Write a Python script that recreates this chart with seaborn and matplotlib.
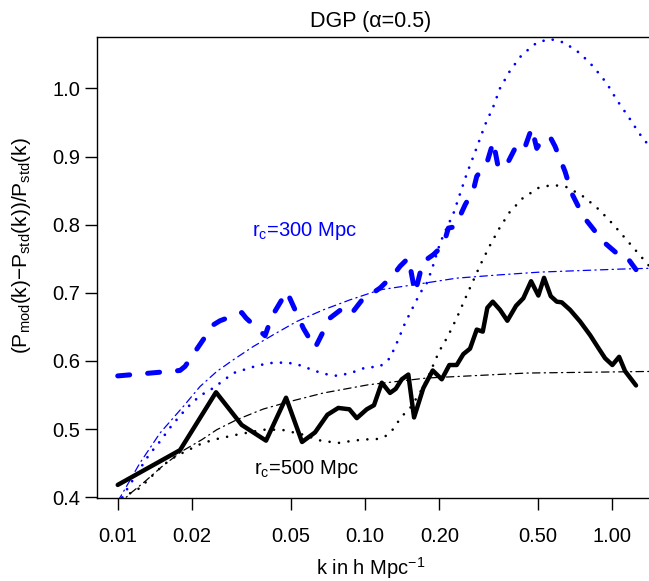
import matplotlib
matplotlib.use("Agg")
import matplotlib.pyplot as plt
from matplotlib.ticker import NullLocator
import seaborn as sns

# ---- data: ratio of modified to standard power spectrum vs k (h/Mpc) ----
# N-body measurement, r_c = 500 Mpc (black solid)
k_sim500 = [0.0100, 0.01786, 0.02498, 0.03174, 0.0398, 0.04796, 0.05566, 0.0628, 0.0705, 0.0780,
            0.0865, 0.0927, 0.1017, 0.1088, 0.1170, 0.1263, 0.1332, 0.1409, 0.1498, 0.1580,
            0.1722, 0.1880, 0.2045, 0.2195, 0.2351, 0.2500, 0.2661, 0.2833, 0.2996, 0.3127,
            0.3289, 0.3519, 0.3767, 0.4087, 0.4372, 0.4699, 0.5029, 0.5302, 0.5645, 0.5969,
            0.6253, 0.6757, 0.7415, 0.8140, 0.8795, 0.9361, 1.002, 1.067, 1.128, 1.249]
r_sim500 = [0.418, 0.469, 0.554, 0.506, 0.483, 0.546, 0.481, 0.495, 0.521, 0.531,
            0.529, 0.516, 0.529, 0.535, 0.568, 0.553, 0.559, 0.573, 0.580, 0.517,
            0.560, 0.586, 0.573, 0.594, 0.594, 0.610, 0.618, 0.646, 0.643, 0.678,
            0.687, 0.675, 0.659, 0.681, 0.692, 0.717, 0.696, 0.722, 0.695, 0.687,
            0.686, 0.675, 0.658, 0.638, 0.619, 0.604, 0.594, 0.606, 0.585, 0.564]

# N-body measurement, r_c = 300 Mpc (blue dashed)
k_sim300 = [0.0100, 0.01786, 0.01872, 0.02436, 0.02594, 0.03174, 0.03304, 0.03944, 0.04198, 0.04828,
            0.05633, 0.0628, 0.07225, 0.08177, 0.08843, 0.09852, 0.1099, 0.1151, 0.1302, 0.1387,
            0.1498, 0.1537, 0.1595, 0.1671, 0.1698, 0.1891, 0.2076, 0.2175, 0.2315, 0.2541,
            0.2746, 0.2833, 0.3109, 0.3306, 0.3465, 0.3746, 0.4047, 0.4372, 0.4730, 0.4955,
            0.5190, 0.5607, 0.5875, 0.6449, 0.6865, 0.7648, 0.9212, 1.044, 1.128, 1.249]
r_sim300 = [0.578, 0.586, 0.592, 0.653, 0.659, 0.671, 0.663, 0.637, 0.665, 0.702,
            0.648, 0.619, 0.663, 0.678, 0.670, 0.692, 0.702, 0.707, 0.726, 0.739,
            0.751, 0.731, 0.700, 0.729, 0.744, 0.756, 0.770, 0.795, 0.797, 0.829,
            0.851, 0.871, 0.890, 0.922, 0.883, 0.888, 0.912, 0.907, 0.942, 0.912,
            0.924, 0.929, 0.915, 0.878, 0.846, 0.812, 0.775, 0.758, 0.756, 0.734]

# Nonlinear fitting prediction, r_c = 300 Mpc (blue dotted)
k_fit300 = [0.0100, 0.01077, 0.0120, 0.01339, 0.01483, 0.01628, 0.01786, 0.01962, 0.02153, 0.02436,
            0.02935, 0.0365, 0.0413, 0.04828, 0.05378, 0.05998, 0.06787, 0.0769, 0.08706, 0.1001,
            0.1151, 0.1263, 0.1345, 0.1453, 0.157, 0.1671, 0.1778, 0.1863, 0.2013, 0.2142,
            0.2278, 0.2424, 0.2581, 0.2713, 0.2876, 0.3060, 0.3306, 0.3519, 0.3864, 0.4308,
            0.4955, 0.5607, 0.6406, 0.7415, 0.8392, 0.9508, 1.044, 1.163, 1.285, 1.41, 1.637]
r_fit300 = [0.3875, 0.4085, 0.4355, 0.4623, 0.4819, 0.502, 0.5196, 0.5357, 0.5489, 0.5602,
            0.5822, 0.5929, 0.5969, 0.5977, 0.5944, 0.5881, 0.5812, 0.5782, 0.5819, 0.590,
            0.5919, 0.6042, 0.6262, 0.6555, 0.6799, 0.6995, 0.7142, 0.7337, 0.7729, 0.7953,
            0.8159, 0.8452, 0.8746, 0.8951, 0.9196, 0.9464, 0.9733, 1.0003, 1.0261, 1.0491,
            1.0672, 1.0726, 1.0672, 1.0516, 1.032, 1.0076, 0.9831, 0.9586, 0.9343, 0.9156, 0.8834]

# Nonlinear fitting prediction, r_c = 500 Mpc (black dotted)
k_fit500 = [0.0100, 0.01114, 0.0123, 0.0133, 0.01438, 0.01553, 0.01733, 0.01943, 0.02153, 0.02436,
            0.03031, 0.03882, 0.04607, 0.05633, 0.06582, 0.07779, 0.0912, 0.1065, 0.1144, 0.1206,
            0.1272, 0.1336, 0.1409, 0.1523, 0.166, 0.1805, 0.1995, 0.2163, 0.2351, 0.2524,
            0.2720, 0.2940, 0.3186, 0.3487, 0.3838, 0.4347, 0.506, 0.5767, 0.6588, 0.7719,
            0.8875, 1.011, 1.207, 1.41, 1.64]
r_fit500 = [0.3846, 0.4051, 0.4135, 0.4257, 0.4381, 0.4491, 0.4609, 0.4697, 0.4777, 0.4843,
            0.4917, 0.499, 0.499, 0.4917, 0.4833, 0.4795, 0.4833, 0.4854, 0.4854, 0.4892,
            0.4951, 0.5064, 0.5185, 0.5309, 0.5518, 0.5772, 0.6139, 0.6359, 0.6629, 0.6887,
            0.7151, 0.7422, 0.7679, 0.7939, 0.8178, 0.8389, 0.8545, 0.8584, 0.855, 0.8404,
            0.8217, 0.8002, 0.7679, 0.7396, 0.7117]

# Linear theory, r_c = 300 Mpc (blue dash-dot)
k_lin300 = [0.0100, 0.01038, 0.0123, 0.01483, 0.01842, 0.02153, 0.02515, 0.02935, 0.03536, 0.04259,
            0.05298, 0.06787, 0.08706, 0.1151, 0.157, 0.2351, 0.3519, 0.5109, 1.076, 1.563, 1.9]
r_lin300 = [0.394, 0.4037, 0.4502, 0.4942, 0.5332, 0.5625, 0.5845, 0.6017, 0.6212, 0.6384,
            0.6579, 0.675, 0.6897, 0.7044, 0.7117, 0.7215, 0.7264, 0.7304, 0.7348, 0.7364, 0.737]

# Linear theory, r_c = 500 Mpc (black dash-dot)
k_lin500 = [0.0100, 0.01121, 0.0129, 0.01507, 0.01815, 0.02187, 0.02515, 0.03031, 0.03882, 0.04977,
            0.06787, 0.1032, 0.1778, 0.4512, 1.38, 1.9]
r_lin500 = [0.388, 0.4051, 0.4232, 0.4447, 0.4672, 0.4843, 0.499, 0.5137, 0.5294, 0.5405,
            0.5529, 0.565, 0.5749, 0.5822, 0.5845, 0.585]

x_tick_values = [0.01, 0.02, 0.05, 0.10, 0.20, 0.50, 1.00]
x_tick_labels = ["0.01", "0.02", "0.05", "0.10", "0.20", "0.50", "1.00"]
y_tick_values = [0.4, 0.5, 0.6, 0.7, 0.8, 0.9, 1.0]
y_tick_labels = ["0.4", "0.5", "0.6", "0.7", "0.8", "0.9", "1.0"]

# ---- style ----
sns.set_style("ticks")
plt.rcParams["font.family"] = ["Liberation Sans", "DejaVu Sans"]
plt.rcParams["mathtext.fontset"] = "custom"
plt.rcParams["mathtext.rm"] = "Liberation Sans"
plt.rcParams["mathtext.it"] = "Liberation Sans:italic"
plt.rcParams["mathtext.bf"] = "Liberation Sans:bold"
plt.rcParams["axes.linewidth"] = 1.0
plt.rcParams["axes.edgecolor"] = "black"
plt.rcParams["text.color"] = "black"
plt.rcParams["axes.labelcolor"] = "black"

BLUE = "#0000ff"
FS = 14.5

fig = plt.figure(figsize=(6.49, 5.81), dpi=100)
fig.patch.set_facecolor("white")
# plot region runs past the right edge of the canvas
ax = fig.add_axes([0.1495, 0.1437, 0.8937, 0.7926])
ax.set_facecolor("white")


def draw(k, r, color, lw, dashes=None):
    sns.lineplot(x=k, y=r, ax=ax, color=color, linewidth=lw, sort=False,
                 estimator=None, legend=False)
    line = ax.lines[-1]
    if dashes is not None:
        line.set_dashes(dashes)
    line.set_dash_capstyle("round")
    line.set_solid_capstyle("round")
    line.set_solid_joinstyle("round")
    line.set_dash_joinstyle("round")
    return line


dashdot = (6.0, 3.4, 1.0, 3.4)

draw(k_lin500, r_lin500, "black", 0.9, dashdot)
draw(k_lin300, r_lin300, BLUE, 0.9, dashdot)
draw(k_fit500, r_fit500, "black", 1.9, (0.01, 3.6))
draw(k_fit300, r_fit300, BLUE, 2.0, (0.01, 3.4))
draw(k_sim300, r_sim300, BLUE, 3.6, (2.4, 3.6))
draw(k_sim500, r_sim500, "black", 3.2)

ax.set_xscale("log")
ax.set_xlim(0.008246, 1.83)
ax.set_ylim(0.3995, 1.0755)
ax.set_xticks(x_tick_values)
ax.set_xticklabels(x_tick_labels)
ax.xaxis.set_minor_locator(NullLocator())
ax.set_yticks(y_tick_values)
ax.set_yticklabels(y_tick_labels)
ax.tick_params(axis="both", which="major", direction="out", length=8.4, width=1.0,
               colors="black", labelsize=FS)
ax.tick_params(axis="x", pad=12.5)
ax.tick_params(axis="y", pad=3.5)
for s in ax.spines.values():
    s.set_visible(True)
    s.set_color("black")
    s.set_linewidth(1.0)
ax.grid(False)
ax.set_xlabel("")
ax.set_ylabel("")

ax.text(0.0348, 0.7836, r"$\mathregular{r_c}$=300 Mpc", color=BLUE, fontsize=FS,
        ha="left", va="baseline")
ax.text(0.0356, 0.4345, r"$\mathregular{r_c}$=500 Mpc", color="black", fontsize=FS,
        ha="left", va="baseline")

fig.text(371 / 649, 1 - 22 / 581, "DGP (α=0.5)", fontsize=15.5, ha="center", va="center")
fig.text(371 / 649, 1 - 568 / 581, r"k in h $\mathregular{Mpc^{-1}}$", fontsize=FS,
         ha="center", va="center")
fig.text(22 / 649, 1 - 246 / 581,
         r"$\mathregular{(P_{mod}(k){-}P_{std}(k))/P_{std}(k)}$",
         fontsize=15, rotation=90, ha="center", va="center")

fig.savefig("out.png", dpi=100, facecolor="white")
